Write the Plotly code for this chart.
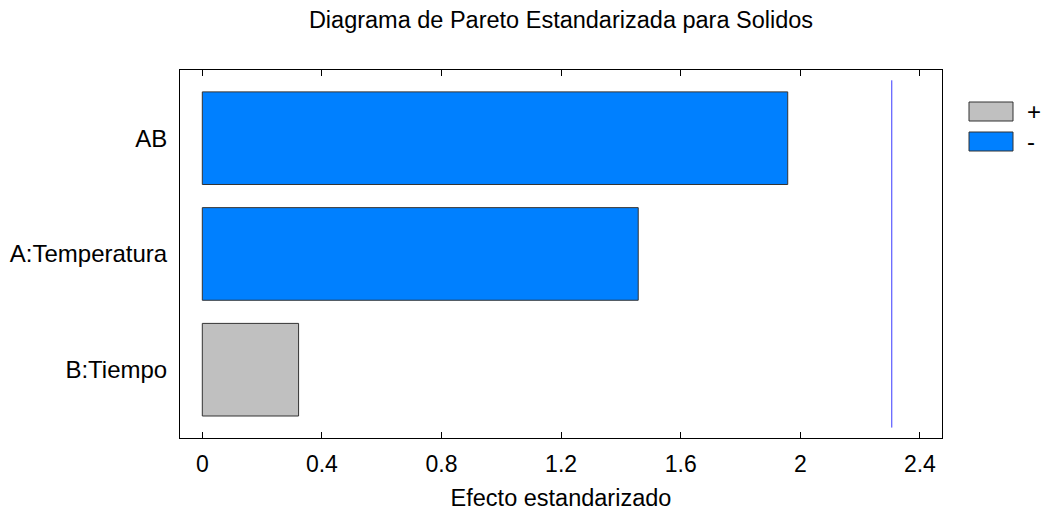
import plotly.graph_objects as go

# ---- data ----
factors = ["AB", "A:Temperatura", "B:Tiempo"]
std_effects = [1.958, 1.458, 0.322]
effect_signs = ["-", "-", "+"]
critical_value = 2.306
x_ticks = [0, 0.4, 0.8, 1.2, 1.6, 2.0, 2.4]
x_tick_labels = ["0", "0.4", "0.8", "1.2", "1.6", "2", "2.4"]
legend_labels = ["+", "-"]

# ---- style ----
sign_colors = {"+": "#C0C0C0", "-": "#0080FF"}
FONT = "Liberation Sans, Arial, sans-serif"
W, H = 1045, 512
L, R, T, B = 180, 103, 70, 74
PW, PH = W - L - R, H - T - B


def px_x(p):
    return (p - L) / PW


def px_y(p):
    return (H - B - p) / PH


fig = go.Figure()
fig.add_trace(go.Bar(
    y=factors,
    x=std_effects,
    orientation="h",
    width=0.8,
    marker=dict(color=[sign_colors[s] for s in effect_signs],
                line=dict(color="#333333", width=1)),
    showlegend=False,
    hoverinfo="x+y",
))

# critical value line
fig.add_shape(type="line", xref="x", yref="y",
              x0=critical_value, x1=critical_value, y0=-0.5, y1=2.5,
              line=dict(color="#3a3aff", width=1))

# legend drawn as boxes + labels
box_rows = [(102, 121), (132, 151)]
for lab, (y0, y1) in zip(legend_labels, box_rows):
    fig.add_shape(type="rect", xref="paper", yref="paper",
                  x0=px_x(969), x1=px_x(1013), y0=px_y(y1), y1=px_y(y0),
                  fillcolor=sign_colors[lab],
                  line=dict(color="#333333", width=1))
    fig.add_annotation(xref="paper", yref="paper", x=px_x(1025),
                       y=px_y((y0 + y1) / 2), text=lab, showarrow=False,
                       xanchor="left", yanchor="middle",
                       font=dict(family=FONT, size=24, color="black"))

fig.update_layout(
    width=W, height=H,
    margin=dict(l=L, r=R, t=T, b=B, autoexpand=False),
    paper_bgcolor="white", plot_bgcolor="white",
    font=dict(family=FONT, size=23, color="black"),
    title=dict(text="Diagrama de Pareto Estandarizada para Solidos",
               x=0.5, xref="paper", xanchor="center",
               y=1 - 20 / H, yref="container", yanchor="middle",
               font=dict(family=FONT, size=23.5, color="black")),
    xaxis=dict(range=[-0.0746, 2.474], tickvals=x_ticks, ticktext=x_tick_labels,
               ticks="inside", ticklen=6, tickcolor="black", tickwidth=1,
               showline=True, linecolor="black", linewidth=1, mirror="ticks",
               showgrid=False, zeroline=False,
               ticklabelstandoff=5,
               tickfont=dict(size=23),
               title=dict(text="Efecto estandarizado", standoff=13,
                          font=dict(size=23.5))),
    yaxis=dict(categoryorder="array", categoryarray=factors,
               range=[2.59, -0.589],
               showline=True, linecolor="black", linewidth=1, mirror=True,
               ticks="", showgrid=False, zeroline=False,
               ticklabelstandoff=7,
               tickfont=dict(size=24)),
    bargap=0.2,
)

fig.write_html("out.html",
               config={"displayModeBar": False},
               post_script="document.body.style.margin='0';"
                           "document.body.style.overflow='hidden';")
